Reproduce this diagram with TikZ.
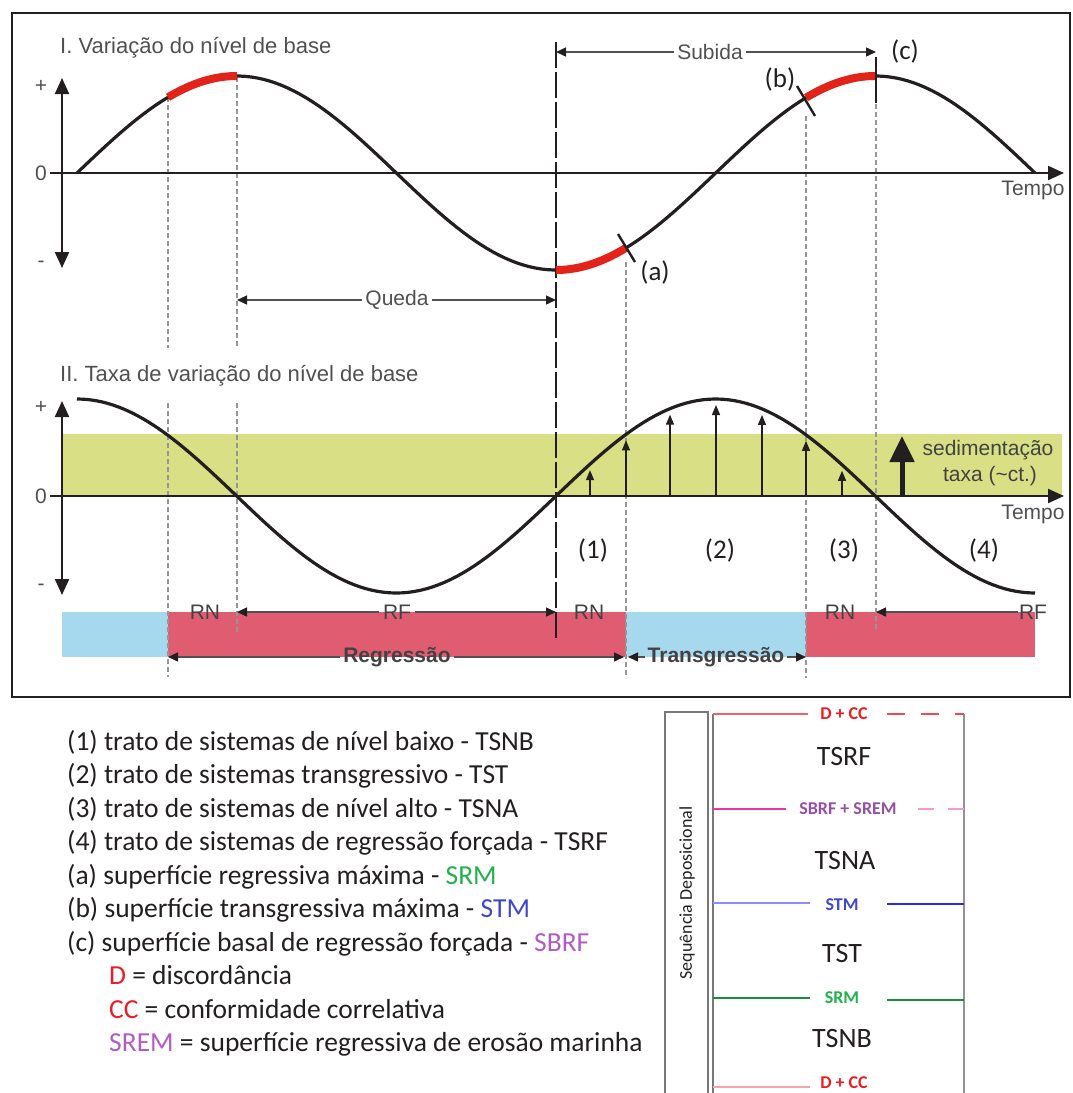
\documentclass[tikz,border=0pt]{standalone}
\usepackage{fontspec}
\setmainfont{Carlito}
\setsansfont{Liberation Sans}
\usetikzlibrary{arrows.meta}
\usepackage{xcolor}
\definecolor{ink}{RGB}{35,31,32}
\definecolor{txtgray}{RGB}{80,80,80}
\definecolor{dashgray}{RGB}{150,150,150}
\definecolor{curvered}{RGB}{226,35,26}
\definecolor{bandgreen}{RGB}{217,223,133}
\definecolor{barblue}{RGB}{166,216,238}
\definecolor{barred}{RGB}{224,92,112}
\definecolor{srmgreen}{RGB}{34,177,76}
\definecolor{stmblue}{RGB}{63,72,204}
\definecolor{sbrfpurple}{RGB}{176,92,196}
\definecolor{dccred}{RGB}{237,28,36}
\definecolor{colgray}{RGB}{120,120,120}
\tikzset{
  TL/.style={font=\sffamily\fontsize{22}{26}\selectfont,text=txtgray,anchor=west,inner sep=0pt},
  LB/.style={font=\sffamily\fontsize{21}{25}\selectfont,text=txtgray,inner sep=3pt},
  RL/.style={font=\sffamily\fontsize{21}{25}\selectfont,text=ink!85,inner sep=1pt},
  BL/.style={font=\sffamily\bfseries\fontsize{21}{25}\selectfont,text=ink!85,inner sep=3pt},
  NB/.style={font=\fontsize{27}{31}\selectfont,text=ink,inner sep=0pt},
  LG/.style={font=\fontsize{27.5}{31}\selectfont,text=ink,anchor=base west,inner sep=0pt},
  TR/.style={font=\fontsize{28}{32}\selectfont,text=ink,inner sep=0pt},
  SF/.style={font=\bfseries\fontsize{18}{22}\selectfont,inner sep=0pt},
  CV/.style={ink,line width=3.2pt},
  RS/.style={curvered,line width=8pt},
  GD/.style={dashgray,line width=1.2pt,dash pattern=on 5pt off 3pt},
  BD/.style={ink,line width=2.2pt,dash pattern=on 26pt off 4pt},
  AX/.style={ink,line width=2.2pt,-{Triangle[width=14pt,length=16pt]}},
  DM/.style={txtgray,line width=1.4pt,-{Triangle[width=9pt,length=10pt,color=ink]}},
  UP/.style={ink,line width=1.2pt,-{Triangle[width=8pt,length=10pt]}},
  TK/.style={ink,line width=2.4pt},
}

\begin{document}
\begin{tikzpicture}[x=1pt,y=-1pt]
\useasboundingbox (0,0) rectangle (1072,1093);

% Backgrounds: rate band and regression/transgression bar (y=612..657)
\fill[bandgreen] (62,434) rectangle (1062,496);
\fill[barblue] (62,612) rectangle (168,657);
\fill[barred]  (168,612) rectangle (626,657);
\fill[barblue] (626,612) rectangle (806,657);
\fill[barred]  (806,612) rectangle (1035,657);

% Guide lines
\draw[GD] (168,97) -- (168,348);
\draw[GD] (168,403) -- (168,677);
\draw[GD] (237,77) -- (237,348);
\draw[GD] (237,403) -- (237,632);
\draw[GD] (626,262) -- (626,678);
\draw[GD] (806,116) -- (806,678);
\draw[GD] (876,104) -- (876,630);
\draw[BD] (556,42) -- (556,640);

% Frame
\draw[ink,line width=2.5pt] (12,13) rectangle (1070,697);

% Panel I: base level (axis y=173)
\node[TL](t1) at (60,48){I. Variação do nível de base};
\node[LB](p1) at (41,86){+};
\node[LB](z1) at (41,173){0};
\node[LB](m1) at (41,264){-};
\draw[ink,line width=2.2pt,{Triangle[width=14pt,length=16pt]}-{Triangle[width=14pt,length=16pt]}] (62,78) -- (62,268);
\draw[AX] (50,173) -- (1064,173);
\node[LB](tp1) at (1033,190){Tempo};
\draw[CV] plot[domain=77:1035,samples=160] (\x,{173-97*sin((\x-77)/159.67*90)});
\draw[RS] plot[domain=168:237,samples=30] (\x,{173-97*sin((\x-77)/159.67*90)});
\draw[RS] plot[domain=556:626,samples=30] (\x,{173-97*sin((\x-77)/159.67*90)});
\draw[RS] plot[domain=806:876,samples=30] (\x,{173-97*sin((\x-77)/159.67*90)});
\draw[TK] (618,234) -- (635,262);
\draw[TK] (797,86) -- (815,116);
\draw[TK] (876,57) -- (876,103);
\node[NB](la) at (655,272){(a)};
\node[NB](lb) at (780,79){(b)};
\node[NB](lc) at (905,51){(c)};

\node[LB](queda) at (397,300){Queda};
\draw[DM](queda.west)--(237,300);
\draw[DM](queda.east)--(556,300);
\node[LB](subida) at (710,52){Subida};
\draw[DM](subida.west)--(556,52);
\draw[DM](subida.east)--(876,52);

% Panel II: rate of base-level change (axis y=496)
\node[TL](t2) at (60,376){II. Taxa de variação do nível de base};
\node[LB](p2) at (41,407){+};
\node[LB](z2) at (41,496){0};
\node[LB](m2) at (41,587){-};
\draw[ink,line width=2.2pt,{Triangle[width=14pt,length=16pt]}-{Triangle[width=14pt,length=16pt]}] (62,401) -- (62,595);
\draw[AX] (50,496) -- (1064,496);
\node[LB](tp2) at (1033,514){Tempo};
\foreach \xa in {590,626,670,716,762,806,842}
  \draw[UP] (\xa,496) -- (\xa,{502-97*sin((\xa-556)/159.67*90)});
\draw[CV] plot[domain=77:1035,samples=160] (\x,{496-97*cos((\x-77)/159.67*90)});
\draw[ink,line width=5pt,-{Triangle[width=24pt,length=26pt]}] (902,496) -- (902,436);
\node[LB,text=ink!85,inner sep=0pt](sed) at (988,450){sedimentação};
\node[LB,text=ink!85,inner sep=0pt](tax) at (990,476){taxa (\textasciitilde ct.)};

\node[NB](n1) at (593,550){(1)};
\node[NB](n2) at (720,550){(2)};
\node[NB](n3) at (844,550){(3)};
\node[NB](n4) at (984,550){(4)};

% RN / RF row (y=612)
\node[RL](rn1) at (205,612){RN};
\node[RL,inner sep=4pt](rf1) at (397,612){RF};
\draw[DM](rf1.west)--(237,612);
\draw[DM](rf1.east)--(556,612);
\node[RL](rn2) at (589,612){RN};
\node[RL](rn3) at (840,612){RN};
\node[RL](rf2) at (1033,612){RF};
\draw[DM](rf2.west)--(876,612);

% Regressao / Transgressao row (y=657)
\node[BL](reg) at (397,657){Regressão};
\draw[DM](reg.west)--(168,657);
\draw[DM](reg.east)--(624,657);
\node[BL](trg) at (716,657){Transgressão};
\draw[DM](trg.west)--(628,657);
\draw[DM](trg.east)--(806,657);

% Legend
\node[LG](l1)  at (67,750){(1) trato de sistemas de nível baixo - TSNB};
\node[LG](l2)  at (67,783.5){(2) trato de sistemas transgressivo - TST};
\node[LG](l3)  at (67,817){(3) trato de sistemas de nível alto - TSNA};
\node[LG](l4)  at (67,850.5){(4) trato de sistemas de regressão forçada - TSRF};
\node[LG](l5)  at (67,884){(a) superfície regressiva máxima - \textcolor{srmgreen}{SRM}};
\node[LG](l6)  at (67,917.5){(b) superfície transgressiva máxima - \textcolor{stmblue}{STM}};
\node[LG](l7)  at (67,951){(c) superfície basal de regressão forçada - \textcolor{sbrfpurple}{SBRF}};
\node[LG](l8)  at (109,984.5){\textcolor{dccred}{D} = discordância};
\node[LG](l9)  at (109,1018){\textcolor{dccred}{CC} = conformidade correlativa};
\node[LG](l10) at (109,1051.5){\textcolor{sbrfpurple}{SREM} = superfície regressiva de erosão marinha};

% Depositional sequence column
\draw[colgray,line width=1.8pt] (665,1100) -- (665,712) -- (708,712) -- (708,1100);
\draw[colgray,line width=1.8pt] (713,714) -- (713,1100);
\draw[colgray!80,line width=1.8pt] (964,714) -- (964,1100);
\node[font=\fontsize{18}{22}\selectfont,text=ink,rotate=90,inner sep=0pt](seq) at (687,893){Sequência Deposicional};

\draw[dccred!70,line width=1.6pt] (713,714) -- (808,714);
\draw[dccred!80,line width=1.6pt,dash pattern=on 18pt off 16pt] (887,714) -- (964,714);
\node[SF,text=dccred](dcc1) at (844,714){D + CC};
\node[TR](tsrf) at (844,757){TSRF};

\draw[magenta!80,line width=1.6pt] (713,809) -- (786,809);
\draw[magenta!40,line width=1.6pt,dash pattern=on 16pt off 14pt] (918,809) -- (964,809);
\node[SF,text=sbrfpurple!85!black](sbrf) at (848,809){SBRF + SREM};
\node[TR](tsna) at (845,860){TSNA};

\draw[blue!45,line width=1.6pt] (713,903) -- (810,903);
\draw[blue!85,line width=1.6pt] (887,904) -- (964,904);
\node[SF,text=stmblue](stm) at (842,905){STM};
\node[TR](tst) at (842,953){TST};

\draw[srmgreen!80!black,line width=1.6pt] (713,998) -- (810,998);
\draw[srmgreen!80!black,line width=1.6pt] (887,1000) -- (964,1000);
\node[SF,text=srmgreen](srm) at (842,998){SRM};
\node[TR](tsnb) at (842,1038){TSNB};

\draw[dccred!40,line width=1.6pt] (713,1087) -- (810,1087);
\node[SF,text=dccred](dcc2) at (844,1083){D + CC};

\end{tikzpicture}
\end{document}
